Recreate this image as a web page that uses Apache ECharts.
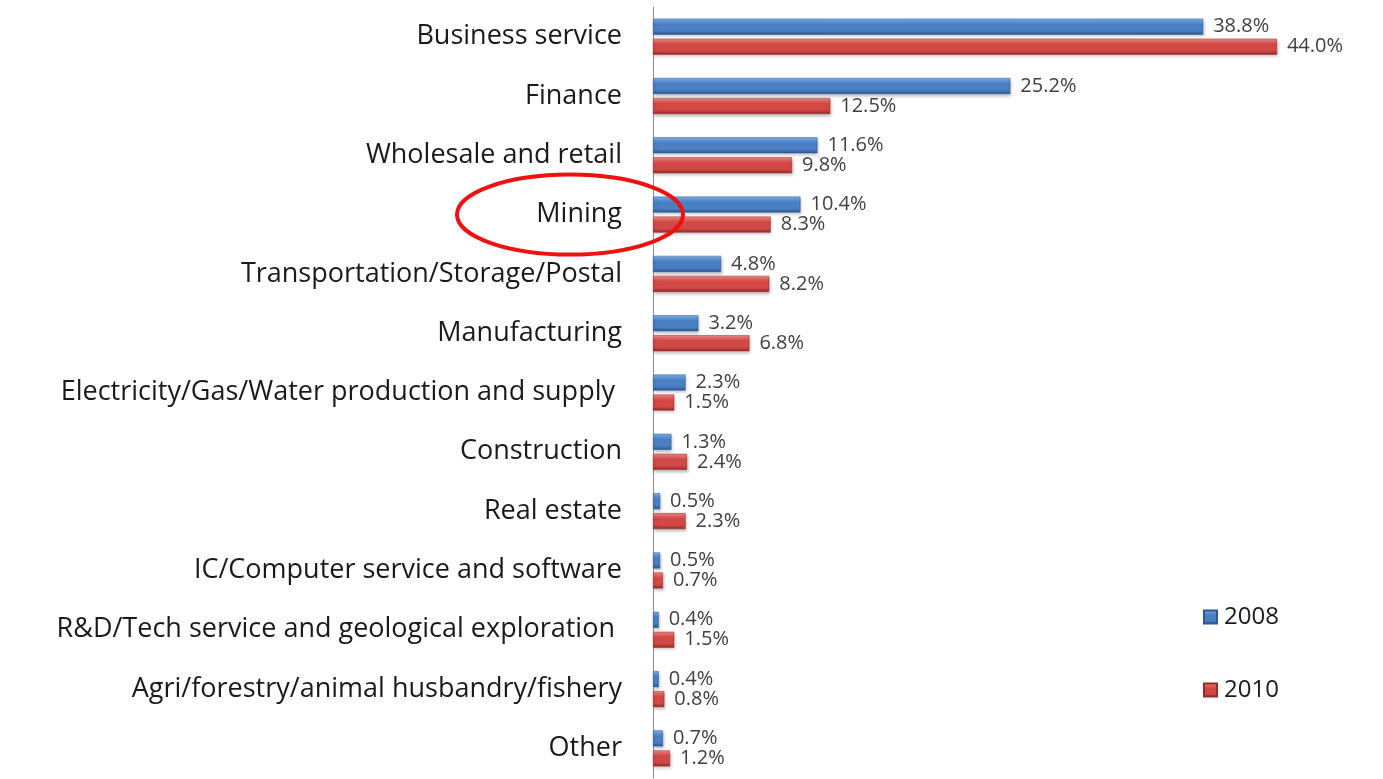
<!DOCTYPE html>
<html>
<head>
<meta charset="utf-8">
<script src="https://cdn.jsdelivr.net/npm/echarts/dist/echarts.min.js"></script>
<style>
  html, body { margin: 0; padding: 0; background: #fff; }
  #main { width: 1383px; height: 779px; }
</style>
</head>
<body>
<div id="main"></div>
<script>
// 行业分类（自上而下）
var categories = [
  'Business service', 'Finance', 'Wholesale and retail', 'Mining',
  'Transportation/Storage/Postal', 'Manufacturing',
  'Electricity/Gas/Water production and supply ',
  'Construction', 'Real estate', 'IC/Computer service and software',
  'R&D/Tech service and geological exploration ',
  'Agri/forestry/animal husbandry/fishery', 'Other'
];
var values2008 = [38.8, 25.2, 11.6, 10.4, 4.8, 3.2, 2.3, 1.3, 0.5, 0.5, 0.4, 0.4, 0.7];
var values2010 = [44.0, 12.5, 9.8, 8.3, 8.2, 6.8, 1.5, 2.4, 2.3, 0.7, 1.5, 0.8, 1.2];
var highlight = 'Mining';

var chart = echarts.init(document.getElementById('main'));

function barColor(top, mid, bottom) {
  return new echarts.graphic.LinearGradient(0, 0, 0, 1, [
    { offset: 0, color: top },
    { offset: 0.35, color: mid },
    { offset: 0.75, color: mid },
    { offset: 1, color: bottom }
  ]);
}

var labelStyle = {
  show: true,
  position: 'right',
  distance: 10,
  fontFamily: 'Open Sans',
  fontSize: 20,
  color: '#404040',
  formatter: function (p) { return p.value.toFixed(1) + '%'; }
};

chart.setOption({
  backgroundColor: '#ffffff',
  animation: false,
  grid: { left: 653, right: 21, top: 7, bottom: 1 },
  legend: {
    orient: 'vertical',
    left: 1198,
    top: 600,
    itemGap: 49,
    itemWidth: 13,
    itemHeight: 13,
    icon: 'rect',
    textStyle: { fontFamily: 'Open Sans', fontSize: 24, color: '#1a1a1a', padding: [0, 0, 0, 2] },
    data: ['2008', '2010']
  },
  xAxis: {
    type: 'value',
    min: 0,
    max: 50,
    show: false
  },
  yAxis: {
    type: 'category',
    inverse: true,
    data: categories,
    axisLine: { show: true, lineStyle: { color: '#8c8c8c', width: 1 } },
    axisTick: { show: false },
    axisLabel: {
      margin: 31,
      fontFamily: 'Open Sans',
      fontSize: 27,
      color: '#1a1a1a'
    }
  },
  series: [{
    name: '2008',
    type: 'bar',
    barWidth: 16,
    barGap: '25%',
    data: values2008,
    itemStyle: {
      color: barColor('#7fb2ee', '#4a7fc4', '#2b5690'),
      borderColor: '#2d5a94',
      borderWidth: 0.5,
      shadowColor: 'rgba(0,0,0,0.25)',
      shadowBlur: 3,
      shadowOffsetX: 1,
      shadowOffsetY: 2
    },
    label: labelStyle
  }, {
    name: '2010',
    type: 'bar',
    barWidth: 16,
    data: values2010,
    itemStyle: {
      color: barColor('#f28a86', '#d24845', '#92292a'),
      borderColor: '#942c2b',
      borderWidth: 0.5,
      shadowColor: 'rgba(0,0,0,0.25)',
      shadowBlur: 3,
      shadowOffsetX: 1,
      shadowOffsetY: 2
    },
    label: labelStyle
  }]
});

// 标注“Mining”的红色椭圆
var cy = chart.convertToPixel({ yAxisIndex: 0 }, highlight);
var x0 = chart.convertToPixel({ xAxisIndex: 0 }, 0);
chart.setOption({
  graphic: [{
    type: 'ellipse',
    shape: { cx: x0 - 83, cy: cy, rx: 113, ry: 40 },
    style: { fill: 'none', stroke: '#ee1111', lineWidth: 4 },
    z: 100
  }]
});
</script>
</body>
</html>
